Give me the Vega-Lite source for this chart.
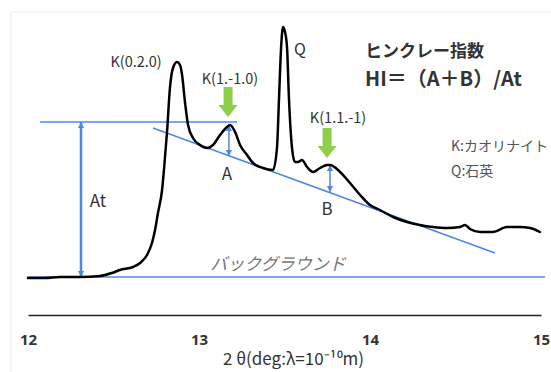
{
  "$schema": "https://vega.github.io/schema/vega-lite/v6.json",
  "width": 513,
  "height": 300,
  "autosize": "none",
  "padding": {"left": 28, "right": 10, "top": 15, "bottom": 57},
  "background": "white",
  "config": {"view": {"stroke": null}},
  "datasets": {
    "curve": [
      {"x": 12.000, "y": 37}, {"x": 12.099, "y": 37}, {"x": 12.187, "y": 38}, {"x": 12.304, "y": 38},
      {"x": 12.421, "y": 39}, {"x": 12.491, "y": 42}, {"x": 12.538, "y": 45}, {"x": 12.614, "y": 48},
      {"x": 12.655, "y": 52}, {"x": 12.696, "y": 60}, {"x": 12.725, "y": 72}, {"x": 12.743, "y": 85},
      {"x": 12.760, "y": 102}, {"x": 12.784, "y": 125}, {"x": 12.795, "y": 145}, {"x": 12.813, "y": 183},
      {"x": 12.830, "y": 227}, {"x": 12.848, "y": 247}, {"x": 12.871, "y": 253}, {"x": 12.889, "y": 250},
      {"x": 12.901, "y": 240}, {"x": 12.918, "y": 213}, {"x": 12.936, "y": 190}, {"x": 12.965, "y": 177},
      {"x": 13.006, "y": 170}, {"x": 13.047, "y": 167}, {"x": 13.082, "y": 170}, {"x": 13.123, "y": 180},
      {"x": 13.164, "y": 188}, {"x": 13.181, "y": 190}, {"x": 13.211, "y": 183}, {"x": 13.240, "y": 170},
      {"x": 13.281, "y": 160}, {"x": 13.316, "y": 152}, {"x": 13.374, "y": 147}, {"x": 13.433, "y": 145},
      {"x": 13.456, "y": 167}, {"x": 13.468, "y": 217}, {"x": 13.480, "y": 267}, {"x": 13.491, "y": 288},
      {"x": 13.503, "y": 283}, {"x": 13.515, "y": 267}, {"x": 13.526, "y": 217}, {"x": 13.544, "y": 167},
      {"x": 13.561, "y": 153}, {"x": 13.579, "y": 153}, {"x": 13.602, "y": 155}, {"x": 13.632, "y": 148},
      {"x": 13.667, "y": 143}, {"x": 13.708, "y": 147}, {"x": 13.749, "y": 150}, {"x": 13.766, "y": 150},
      {"x": 13.825, "y": 143}, {"x": 13.883, "y": 132}, {"x": 13.942, "y": 120}, {"x": 14.000, "y": 110},
      {"x": 14.058, "y": 105}, {"x": 14.135, "y": 98}, {"x": 14.216, "y": 93}, {"x": 14.292, "y": 90},
      {"x": 14.368, "y": 88}, {"x": 14.450, "y": 87}, {"x": 14.526, "y": 88}, {"x": 14.556, "y": 90},
      {"x": 14.585, "y": 86}, {"x": 14.643, "y": 83}, {"x": 14.719, "y": 83}, {"x": 14.801, "y": 88},
      {"x": 14.877, "y": 88}, {"x": 14.936, "y": 87}, {"x": 14.994, "y": 83}
    ],
    "lines": [
      {"id": "bg", "x": 11.994, "y": 38, "x2": 15.023, "y2": 38},
      {"id": "top", "x": 12.070, "y": 193, "x2": 13.222, "y2": 193},
      {"id": "tangent", "x": 12.731, "y": 187, "x2": 14.731, "y2": 62},
      {"id": "at", "x": 12.310, "y": 38, "x2": 12.310, "y2": 193},
      {"id": "a", "x": 13.175, "y": 159, "x2": 13.175, "y2": 190},
      {"id": "b", "x": 13.766, "y": 123, "x2": 13.766, "y2": 150}
    ],
    "heads": [
      {"dir": "up", "x": 12.310, "y": 193},
      {"dir": "down", "x": 12.310, "y": 38},
      {"dir": "up", "x": 13.175, "y": 190},
      {"dir": "down", "x": 13.175, "y": 159},
      {"dir": "up", "x": 13.766, "y": 150},
      {"dir": "down", "x": 13.766, "y": 123}
    ],
    "green": [
      {"x": 13.170, "y": 213},
      {"x": 13.749, "y": 172}
    ],
    "frame": [
      {"x": 11.9006, "y": 303, "x2": 11.9006, "y2": -57},
      {"x": 11.9006, "y": 303, "x2": 15.2, "y2": 303}
    ],
    "texts": [
      {"t": "K(0.2.0)", "x": 12.632, "y": 252, "g": "peak"},
      {"t": "K(1.-1.0)", "x": 13.181, "y": 235, "g": "peak"},
      {"t": "K(1.1.-1)", "x": 13.813, "y": 196, "g": "peak"},
      {"t": "Q", "x": 13.591, "y": 265, "g": "q"},
      {"t": "ヒンクレー指数", "x": 13.971, "y": 263, "g": "head"},
      {"t": "HI＝（A＋B）/At", "x": 13.971, "y": 235, "g": "formula"},
      {"t": "K:カオリナイト", "x": 14.474, "y": 168, "g": "legend"},
      {"t": "Q:石英", "x": 14.474, "y": 143, "g": "legend"},
      {"t": "A", "x": 13.164, "y": 140, "g": "letter"},
      {"t": "B", "x": 13.749, "y": 105, "g": "letter"},
      {"t": "At", "x": 12.409, "y": 113, "g": "letter"},
      {"t": "バックグラウンド", "x": 13.462, "y": 50, "g": "bg"}
    ]
  },
  "encoding": {
    "x": {
      "field": "x", "type": "quantitative",
      "scale": {"domain": [12, 15], "nice": false, "zero": false},
      "axis": {
        "values": [12, 13, 14, 15], "ticks": false, "tickSize": 0, "grid": false,
        "domainColor": "#222", "domainWidth": 1.5,
        "labelFont": "Noto Sans", "labelFontWeight": "bold", "labelFontSize": 15, "labelColor": "#333",
        "labelPadding": 24, "labelBaseline": "middle", "labelFlush": false,
        "title": "2 θ(deg:λ=10⁻¹⁰m)", "titleFont": "Noto Sans CJK JP", "titleFontWeight": "normal",
        "titleFontSize": 17, "titleColor": "#333", "titleX": 265, "titleY": 36, "titleBaseline": "top"
      }
    },
    "y": {
      "field": "y", "type": "quantitative",
      "scale": {"domain": [0, 300], "nice": false, "zero": false},
      "axis": null
    }
  },
  "layer": [
    {
      "data": {"name": "frame"},
      "mark": {"type": "rule", "color": "#ececec", "strokeWidth": 1},
      "encoding": {"x2": {"field": "x2"}, "y2": {"field": "y2"}}
    },
    {
      "data": {"name": "lines"},
      "transform": [{"filter": "datum.id !== 'at'"}],
      "mark": {"type": "rule", "color": "#5088E0", "strokeWidth": 1.5},
      "encoding": {"x2": {"field": "x2"}, "y2": {"field": "y2"}}
    },
    {
      "data": {"name": "lines"},
      "transform": [{"filter": "datum.id === 'at'"}],
      "mark": {"type": "rule", "color": "#5088E0", "strokeWidth": 2.5},
      "encoding": {"x2": {"field": "x2"}, "y2": {"field": "y2"}}
    },
    {
      "data": {"name": "heads"},
      "transform": [{"filter": "datum.dir === 'up'"}],
      "mark": {"type": "point", "shape": "M0,0L-0.5,1L0.5,1Z", "filled": true, "size": 150, "color": "#5088E0", "opacity": 1}
    },
    {
      "data": {"name": "heads"},
      "transform": [{"filter": "datum.dir === 'down'"}],
      "mark": {"type": "point", "shape": "M0,0L-0.5,-1L0.5,-1Z", "filled": true, "size": 150, "color": "#5088E0", "opacity": 1}
    },
    {
      "data": {"name": "curve"},
      "mark": {"type": "line", "color": "#000", "strokeWidth": 2.5, "interpolate": "monotone", "strokeJoin": "round", "strokeCap": "round"}
    },
    {
      "data": {"name": "green"},
      "mark": {"type": "point", "shape": "M-0.3,-1L0.3,-1L0.3,0.2L0.633,0.2L0,1L-0.633,0.2L-0.3,0.2Z", "filled": true, "size": 900, "color": "#8DCF4A", "opacity": 1}
    },
    {
      "data": {"name": "texts"},
      "transform": [{"filter": "datum.g === 'peak'"}],
      "mark": {"type": "text", "font": "Noto Sans CJK JP", "fontSize": 14.5, "color": "#333", "align": "center", "baseline": "middle"},
      "encoding": {"text": {"field": "t"}}
    },
    {
      "data": {"name": "texts"},
      "transform": [{"filter": "datum.g === 'q'"}],
      "mark": {"type": "text", "font": "Noto Sans CJK JP", "fontSize": 16, "color": "#333", "align": "center", "baseline": "middle"},
      "encoding": {"text": {"field": "t"}}
    },
    {
      "data": {"name": "texts"},
      "transform": [{"filter": "datum.g === 'head'"}],
      "mark": {"type": "text", "font": "Noto Sans CJK JP", "fontSize": 17, "fontWeight": "bold", "color": "#333", "align": "left", "baseline": "middle"},
      "encoding": {"text": {"field": "t"}}
    },
    {
      "data": {"name": "texts"},
      "transform": [{"filter": "datum.g === 'formula'"}],
      "mark": {"type": "text", "font": "Noto Sans CJK JP", "fontSize": 20, "fontWeight": "bold", "color": "#333", "align": "left", "baseline": "middle"},
      "encoding": {"text": {"field": "t"}}
    },
    {
      "data": {"name": "texts"},
      "transform": [{"filter": "datum.g === 'legend'"}],
      "mark": {"type": "text", "font": "Noto Sans CJK JP", "fontSize": 14, "color": "#555", "align": "left", "baseline": "middle"},
      "encoding": {"text": {"field": "t"}}
    },
    {
      "data": {"name": "texts"},
      "transform": [{"filter": "datum.g === 'letter'"}],
      "mark": {"type": "text", "font": "Noto Sans CJK JP", "fontSize": 17, "color": "#333", "align": "center", "baseline": "middle"},
      "encoding": {"text": {"field": "t"}}
    },
    {
      "data": {"name": "texts"},
      "transform": [{"filter": "datum.g === 'bg'"}],
      "mark": {"type": "text", "font": "Noto Sans CJK JP", "fontSize": 17, "fontStyle": "italic", "color": "#777", "align": "center", "baseline": "middle"},
      "encoding": {"text": {"field": "t"}}
    }
  ]
}
